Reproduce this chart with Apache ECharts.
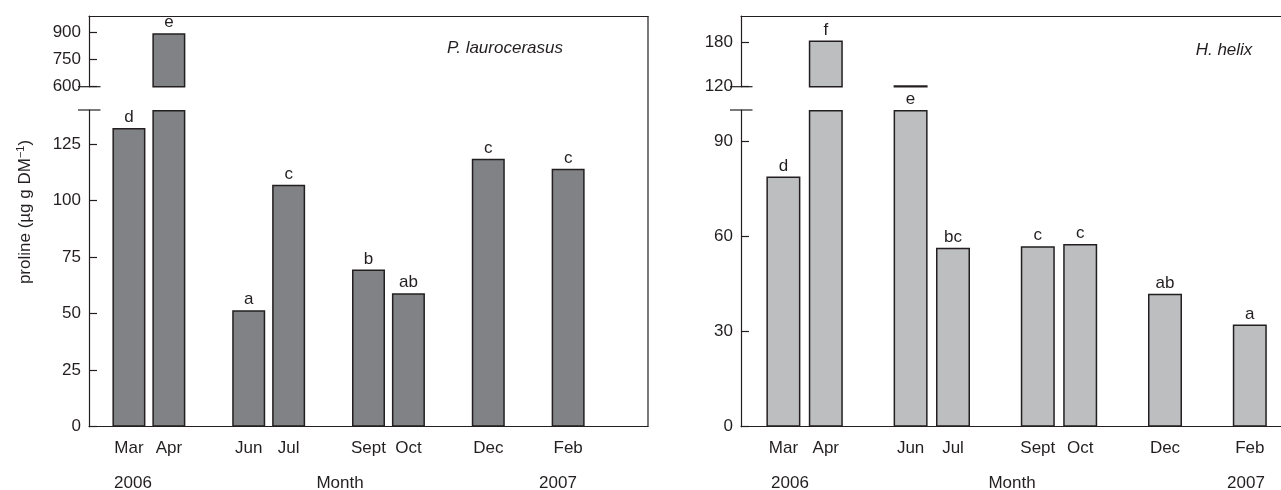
<!DOCTYPE html>
<html><head><meta charset="utf-8">
<script src="https://cdn.jsdelivr.net/npm/echarts@6/dist/echarts.min.js"></script>
<style>html,body{margin:0;padding:0;background:#fff}#c{width:1281px;height:490px}</style>
</head><body><div id="c"></div>
<script>
// ---------- data ----------
const axisMonths = ['', 'Mar', 'Apr', 'May', 'Jun', 'Jul', 'Aug', 'Sept', 'Oct', 'Nov', 'Dec', 'Jan', 'Feb', '', ''];
const sampledMonths = ['Mar', 'Apr', 'Jun', 'Jul', 'Sept', 'Oct', 'Dec', 'Feb'];
const plValues  = [132, 895, 51.5, 107, 69.5, 59, 118.5, 114];
const plLetters = ['d', 'e', 'a', 'c', 'b', 'ab', 'c', 'c'];
const hhValues  = [79, 182, 122, 56.5, 57, 57.7, 42, 32.3];
const hhLetters = ['d', 'f', 'e', 'bc', 'c', 'c', 'ab', 'a'];
const plLowerTicks = [0, 25, 50, 75, 100, 125];
const plUpperTicks = [600, 750, 900];
const hhLowerTicks = [0, 30, 60, 90];
const hhUpperTicks = [120, 180];
const plLowerMax = 140, plUpperMax = 990;
const hhLowerMax = 100, hhUpperMax = 215;
const yearLabels = ['2006', 'Month', '2007'];
const speciesNames = ['P. laurocerasus', 'H. helix'];

// ---------- layout ----------
const FONT = '"Liberation Sans", Arial, Helvetica, sans-serif';
const INK = '#231f20';
const TOP = 16, UP_BOTTOM = 86.7, LOW_TOP = 110, BOTTOM = 426.7;
const panels = [
  {left: 89, width: 559, values: plValues, letters: plLetters, lowT: plLowerTicks, upT: plUpperTicks,
   lowMax: plLowerMax, upMax: plUpperMax, color: '#808285', barWidth: 33,
   years: [133, 340, 558], title: [505, 48]},
  {left: 741, width: 593.6, values: hhValues, letters: hhLetters, lowT: hhLowerTicks, upT: hhUpperTicks,
   lowMax: hhLowerMax, upMax: hhUpperMax, color: '#bcbec0', barWidth: 34,
   years: [790, 1012, 1246], title: [1224, 50]}
];

const grids = [], xAxes = [], yAxes = [], series = [], graphics = [];
const txt = {color: INK, fontFamily: FONT, fontSize: 17};

panels.forEach((p, pi) => {
  const upMin = p.upT[0];
  const gUp = grids.length;
  grids.push({left: p.left, width: p.width, top: TOP, height: UP_BOTTOM - TOP, containLabel: false, outerBoundsMode: 'none'});
  grids.push({left: p.left, width: p.width, top: LOW_TOP, height: BOTTOM - LOW_TOP, containLabel: false, outerBoundsMode: 'none'});
  const axLine = {show: true, lineStyle: {color: INK, width: 1.2}};
  xAxes.push({gridIndex: gUp, type: 'category', data: axisMonths, boundaryGap: false, position: 'top',
    axisLine: axLine, axisTick: {show: false}, axisLabel: {show: false}, splitLine: {show: false}});
  xAxes.push({gridIndex: gUp + 1, type: 'category', data: axisMonths, boundaryGap: false, position: 'bottom',
    axisLine: axLine, axisTick: {show: false}, splitLine: {show: false},
    axisLabel: Object.assign({interval: 0, margin: 13, formatter: v => sampledMonths.includes(v) ? v : ''}, txt)});
  const yCommon = (ticks, max) => ({
    type: 'value', min: ticks[0], max: max, interval: ticks[1] - ticks[0],
    axisLine: axLine, splitLine: {show: false},
    axisTick: {show: true, inside: true, length: 8, lineStyle: {color: INK, width: 1.2}},
    axisLabel: Object.assign({margin: 8, showMaxLabel: false, formatter: v => ticks.includes(v) ? String(v) : ''}, txt)
  });
  yAxes.push(Object.assign({gridIndex: gUp}, yCommon(p.upT, p.upMax)));
  yAxes.push(Object.assign({gridIndex: gUp + 1}, yCommon(p.lowT, p.lowMax)));

  const upData = [], lowData = [];
  axisMonths.forEach(m => {
    const i = sampledMonths.indexOf(m);
    if (m === '' || i < 0) { upData.push(null); lowData.push(null); return; }
    const v = p.values[i];
    const labelTop = v - upMin > 0.1 * (p.upMax - upMin);
    upData.push(v > upMin ? {value: v, label: {show: labelTop, formatter: p.letters[i]}} : null);
    lowData.push({value: Math.min(v, p.lowMax), label: {show: !labelTop, formatter: p.letters[i]}});
  });
  const barBase = {type: 'bar', barWidth: p.barWidth, itemStyle: {color: p.color, borderColor: INK, borderWidth: 1.5},
    label: Object.assign({position: 'top', distance: 2}, txt), animation: false, silent: true};
  series.push(Object.assign({xAxisIndex: gUp, yAxisIndex: gUp, data: upData}, barBase));
  series.push(Object.assign({xAxisIndex: gUp + 1, yAxisIndex: gUp + 1, data: lowData}, barBase));

  // axis break marks
  [UP_BOTTOM, LOW_TOP].forEach(y => graphics.push({type: 'line', silent: true,
    shape: {x1: p.left - 11, y1: y, x2: p.left + 11.5, y2: y}, style: {stroke: INK, lineWidth: 1.2}}));
  // year / Month labels
  yearLabels.forEach((t, k) => graphics.push({type: 'text', x: p.years[k], y: 483, silent: true,
    style: {text: t, fill: INK, font: '17px ' + FONT, textAlign: 'center', textVerticalAlign: 'middle'}}));
  // species title
  graphics.push({type: 'text', x: p.title[0], y: p.title[1], silent: true,
    style: {text: speciesNames[pi], fill: INK, font: 'italic 17px ' + FONT, textAlign: 'center', textVerticalAlign: 'middle'}});
});

// right border of left panel
graphics.push({type: 'line', silent: true,
  shape: {x1: panels[0].left + panels[0].width, y1: TOP, x2: panels[0].left + panels[0].width, y2: BOTTOM},
  style: {stroke: INK, lineWidth: 1.2}});
// y-axis title
graphics.push({type: 'text', x: 25, y: 212, rotation: Math.PI / 2, silent: true,
  style: {text: '{a|proline (µg g DM}{s|−1}{a|)}', textAlign: 'center', textVerticalAlign: 'middle',
    rich: {a: {fontSize: 17, fontFamily: FONT, fill: INK, color: INK, lineHeight: 20},
           s: {fontSize: 11, fontFamily: FONT, fill: INK, color: INK, verticalAlign: 'top', lineHeight: 20}}}});

const chart = echarts.init(document.getElementById('c'), null, {renderer: 'canvas'});
chart.setOption({animation: false, backgroundColor: '#fff', grid: grids, xAxis: xAxes, yAxis: yAxes, series: series, graphic: graphics});
</script></body></html>
